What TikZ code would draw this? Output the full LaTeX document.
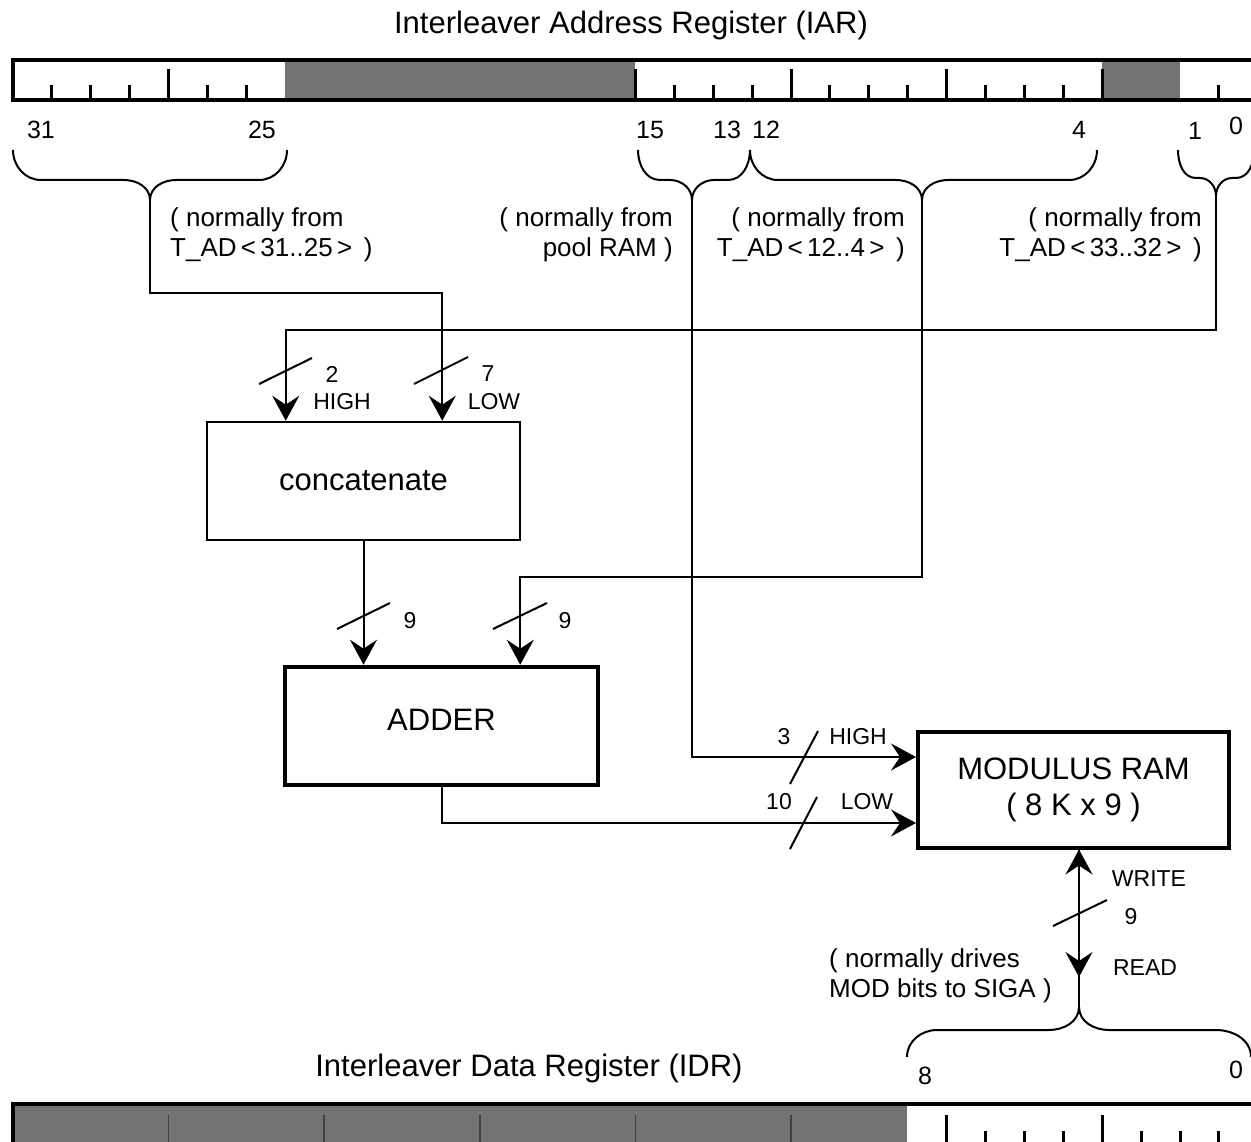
\documentclass[tikz,border=0pt]{standalone}
\usepackage{fontspec}
\setmainfont{Liberation Sans}
\usetikzlibrary{arrows.meta}
\tikzset{
 conn/.style={line width=2pt},
 arr/.style={conn, -{Stealth[length=25pt,width=27pt,inset=9pt]}},
 slash/.style={line width=2pt},
 lbl/.style={inner sep=0pt, font=\fontsize{23}{27}\selectfont},
 note/.style={inner sep=0pt, font=\fontsize{26}{30}\selectfont},
 bitnum/.style={inner sep=0pt, font=\fontsize{25}{30}\selectfont},
 regtitle/.style={inner sep=0pt, font=\fontsize{31}{36}\selectfont},
 blk/.style={draw, inner sep=0pt, font=\fontsize{31}{36}\selectfont, align=center},
 shade/.style={fill=black!55},
 regline/.style={line width=4.5pt},
 tickmark/.style={line width=3pt},
 brace/.style={line width=2pt},
}
\begin{document}
\begin{tikzpicture}[x=1pt,y=-1pt]
\useasboundingbox (0,0) rectangle (1251,1142);
\clip (0,0) rectangle (1251,1142);
\fill[white] (0,0) rectangle (1251,1142);

% ---------- IAR ----------
\node[regtitle] (iart) at (631,25) {Interleaver Address Register (IAR)};
\fill[shade] (285,62) rectangle (635,99);
\fill[shade] (1102,62) rectangle (1180,99);
\foreach \k in {1,2,3,4,5,6,16,17,18,19,20,21,22,23,24,25,26,27,28,31}{
  \pgfmathsetmacro{\tx}{13+38.9*\k}
  \pgfmathsetmacro{\th}{mod(\k,4)==0 ? 30 : 14}
  \draw[tickmark] (\tx,99) -- ++(0,-\th);
}
\draw[regline] (11,60) -- (1260,60);
\draw[regline] (11,100) -- (1260,100);
\draw[regline] (13,58) -- (13,102);

\node[bitnum] (b31) at (41,130) {31};
\node[bitnum] (b25) at (262,130) {25};
\node[bitnum] (b15) at (650,130) {15};
\node[bitnum] (b13) at (727,130) {13};
\node[bitnum] (b12) at (766,130) {12};
\node[bitnum] (b4) at (1079,130) {4};
\node[bitnum] (b1) at (1195,131) {1};
\node[bitnum] (b0) at (1236,126) {0};

% braces
\draw[brace] (13,150) to[out=-90,in=180] (41,180) -- (124,180) to[out=0,in=90] (150,200)
  to[out=90,in=180] (176,180) -- (259,180) to[out=0,in=-90] (287,150);
\draw[brace] (638,150) to[out=-90,in=180] (660,180) -- (670,180) to[out=0,in=90] (692,200)
  to[out=90,in=180] (714,180) -- (728,180) to[out=0,in=-90] (750,150);
\draw[brace] (750,150) to[out=-90,in=180] (778,180) -- (896,180) to[out=0,in=90] (922,200)
  to[out=90,in=180] (948,180) -- (1069,180) to[out=0,in=-90] (1097,150);
\draw[brace] (1178,150) to[out=-90,in=180] (1196,178) -- (1200,178) to[out=0,in=90] (1216,196)
  to[out=90,in=180] (1232,178) -- (1236,178) to[out=0,in=-90] (1254,150);
\coordinate (t1) at (150,200);
\coordinate (t2) at (692,200);
\coordinate (t3) at (922,200);
\coordinate (t4) at (1216,196);

\node[note, anchor=west, align=left] (n1) at (170,235) {( normally from\\T\_AD\,<\,31..25\,>\, )};
\node[note, anchor=east, align=right] (n2) at (673,235) {( normally from\\pool RAM )};
\node[note, anchor=east, align=right] (n3) at (905,235) {( normally from\\T\_AD\,<\,12..4\,>\, )};
\node[note, anchor=east, align=right] (n4) at (1202,235) {( normally from\\T\_AD\,<\,33..32\,>\, )};

% ---------- blocks ----------
\node[blk, line width=2.5pt, minimum width=313pt, minimum height=118pt] (concat) at (363.5,481) {concatenate};
\node[blk, line width=4.5pt, minimum width=313pt, minimum height=118pt, text depth=12pt] (adder) at (441.5,726) {ADDER};
\node[blk, line width=4pt, minimum width=311pt, minimum height=116pt] (ram) at (1073.5,789.5) {MODULUS RAM\\( 8 K x 9 )};

% ---------- connectors ----------
\draw[arr] (t1) -- ++(0,93) -| ([xshift=-79pt]concat.north east);
\draw[arr] (t4) -- ++(0,134) -| ([xshift=80pt]concat.north west);
\draw[arr] (concat.south) -- (concat.south |- adder.north);
\draw[arr] (t3) -- ++(0,377) -| ([xshift=-80pt]adder.north east);
\draw[arr] (t2) |- ([yshift=32.5pt]ram.west);
\draw[arr] (adder.south) |- ([yshift=-33.5pt]ram.west);

% bus slashes and labels
\draw[slash] (259,384) -- (312,358);
\draw[slash] (414,384) -- (468,357);
\draw[slash] (337,629) -- (390,603);
\draw[slash] (493,629) -- (547,603);
\draw[slash] (790,784) -- (818,731);
\draw[slash] (790,849) -- (817,797);
\draw[slash] (1053,926) -- (1107,900);

\node[lbl] (l2) at (332,374) {2};
\node[lbl] (lhigh1) at (342,402) {HIGH};
\node[lbl] (l7) at (488,374) {7};
\node[lbl] (llow1) at (494,402) {LOW};
\node[lbl] (l9a) at (410,621) {9};
\node[lbl] (l9b) at (565,621) {9};
\node[lbl] (l3) at (784,737) {3};
\node[lbl] (lhigh2) at (858,737) {HIGH};
\node[lbl] (l10) at (779,802) {10};
\node[lbl] (llow2) at (867,802) {LOW};
\node[lbl] (lwrite) at (1149,879) {WRITE};
\node[lbl] (l9c) at (1131,917) {9};
\node[lbl] (lread) at (1145,968) {READ};

\node[note, anchor=west, align=left] (n5) at (829,976) {( normally drives\\MOD bits to SIGA )};

% ---------- IDR brace and bidirectional bus ----------
\draw[brace] (907,1057) to[out=90,in=180] (937,1030) -- (1049,1030) to[out=0,in=-90] (1079,1007)
  to[out=-90,in=180] (1109,1030) -- (1216,1030) to[out=0,in=90] (1251,1057);
\coordinate (t5) at (1079,1007);
\draw[arr] (t5) -- (t5 |- ram.south);
\draw[arr] (t5 |- ram.south) -- ([yshift=30pt]t5);

% ---------- IDR ----------
\node[regtitle] (idrt) at (529,1068) {Interleaver Data Register (IDR)};
\node[bitnum] (d8) at (925,1076) {8};
\node[bitnum] (d0) at (1236,1070) {0};
\fill[shade] (13,1106) rectangle (907,1150);
\foreach \k in {4,8,12,16,20}{
  \pgfmathsetmacro{\tx}{13+38.9*\k}
  \draw[line width=1.5pt, black!75] (\tx,1150) -- (\tx,1115);
}
\foreach \k in {24,25,26,27,28,29,30,31}{
  \pgfmathsetmacro{\tx}{13+38.9*\k}
  \pgfmathsetmacro{\th}{mod(\k,4)==0 ? 30 : 14}
  \draw[tickmark] (\tx,1145) -- ++(0,-\th);
}
\draw[regline] (11,1104) -- (1260,1104);
\draw[regline] (13,1102) -- (13,1150);
\end{tikzpicture}
\end{document}
